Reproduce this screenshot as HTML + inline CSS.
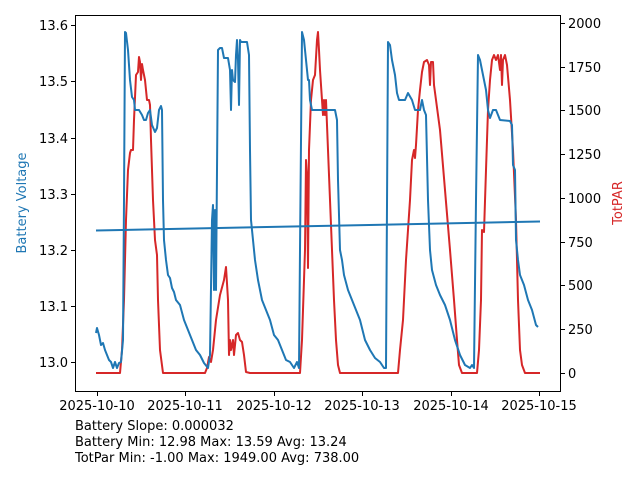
<!DOCTYPE html>
<html><head><style>body{margin:0;background:#fff}svg text{font-family:"DejaVu Sans",sans-serif;font-size:13px}</style></head><body>
<svg width="640" height="480" viewBox="0 0 640 480">
<rect width="640" height="480" fill="#fff"/>
<g fill="none" stroke-width="2" stroke-linejoin="round">
<polyline stroke="#d62728" points="96,373 120,373 122,350 124,300 126,220 128,170 130,153 131,150 133,150 134,120 136,75 138,72 139,57 140,62 141,80 142,64 143,70 145,80 147,100 149,100 150,105 151,140 153,200 155,240 157,255 158,300 160,350 163,373 205,373 207,368 209,357 211,362 213,350 216,320 220,295 224,280 226,267 228,300 229,355 230,340 231,350 233,340 234,355 236,335 238,333 240,340 242,342 244,355 246,372 250,373 300,373 302,340 304,280 305,250 306,160 307,175 308,268 309,150 311,100 313,80 315,75 317,40 318,32 319,50 320,70 322,100 323,115 324,100 325,115 326,100 328,150 330,200 332,250 334,300 336,340 338,365 340,373 398,373 400,350 403,320 406,260 408,230 410,200 412,160 414,150 415,158 416,145 418,110 420,90 422,72 424,62 427,60 429,65 430,85 431,62 433,62 434,85 436,100 440,130 445,190 450,250 454,300 457,340 459,365 462,373 477,373 479,350 481,300 482,230 484,232 486,170 488,110 490,80 492,60 494,55 496,60 498,55 500,70 501,55 502,85 503,60 505,55 507,65 510,100 513,150 516,220 518,300 520,350 522,365 525,373 540,373"/>
<polyline stroke="#1f77b4" points="96,333 97,328 99,335 101,345 103,343 105,350 107,355 109,360 111,362 113,368 115,362 117,368 119,363 121,362 123,340 124,200 125,32 126,33 128,50 130,80 132,97 134,100 135,110 137,110 139,110 142,115 144,120 146,120 148,113 150,110 152,125 155,132 157,128 159,110 161,106 162,110 163,200 164,240 166,260 168,275 170,278 172,288 174,292 176,300 180,305 184,320 188,330 192,340 196,350 200,355 204,363 208,368 210,355 212,220 213,205 214,290 215,210 216,290 218,50 220,48 222,48 224,58 226,58 228,58 230,70 231,110 232,70 233,80 235,82 236,55 237,40 238,60 239,105 240,40 241,42 247,42 249,55 250,150 251,220 253,240 255,260 258,280 262,300 266,310 270,320 274,335 278,340 282,350 286,360 290,362 294,368 297,362 299,368 300,250 302,32 304,40 306,60 308,80 309,80 310,100 312,110 335,110 337,120 338,180 340,250 342,260 344,275 348,290 352,300 356,310 360,320 365,340 370,350 375,358 380,362 384,368 386,368 388,42 390,45 392,60 395,75 397,93 399,100 405,100 408,93 412,100 415,110 420,110 422,100 424,110 426,115 428,200 430,250 432,270 436,285 440,295 445,305 450,320 455,340 460,355 465,365 470,368 472,365 474,368 476,200 478,55 480,60 482,70 484,80 486,90 488,110 490,118 493,110 496,110 500,120 510,121 512,125 513,165 515,170 516,240 518,260 520,275 524,285 528,300 532,310 536,325 538,327"/>
<line x1="96" y1="230.5" x2="540" y2="221.5" stroke="#1f77b4"/>
</g>
<rect x="75.5" y="15.5" width="485" height="376" fill="none" stroke="#000" stroke-width="1"/>
<g stroke="#000" stroke-width="1">
<line x1="75" x2="71" y1="25.5" y2="25.5"/><line x1="75" x2="71" y1="81.5" y2="81.5"/><line x1="75" x2="71" y1="138.5" y2="138.5"/><line x1="75" x2="71" y1="194.5" y2="194.5"/><line x1="75" x2="71" y1="250.5" y2="250.5"/><line x1="75" x2="71" y1="306.5" y2="306.5"/><line x1="75" x2="71" y1="362.5" y2="362.5"/>
<line x1="561" x2="565" y1="23.5" y2="23.5"/><line x1="561" x2="565" y1="67.5" y2="67.5"/><line x1="561" x2="565" y1="110.5" y2="110.5"/><line x1="561" x2="565" y1="154.5" y2="154.5"/><line x1="561" x2="565" y1="198.5" y2="198.5"/><line x1="561" x2="565" y1="242.5" y2="242.5"/><line x1="561" x2="565" y1="285.5" y2="285.5"/><line x1="561" x2="565" y1="329.5" y2="329.5"/><line x1="561" x2="565" y1="373.5" y2="373.5"/>
<line x1="97.5" x2="97.5" y1="392" y2="396"/><line x1="185.5" x2="185.5" y1="392" y2="396"/><line x1="274.5" x2="274.5" y1="392" y2="396"/><line x1="362.5" x2="362.5" y1="392" y2="396"/><line x1="451.5" x2="451.5" y1="392" y2="396"/><line x1="539.5" x2="539.5" y1="392" y2="396"/>
</g>
<g text-anchor="end">
<text x="68" y="30">13.6</text><text x="68" y="86">13.5</text><text x="68" y="143">13.4</text><text x="68" y="199">13.3</text><text x="68" y="255">13.2</text><text x="68" y="311">13.1</text><text x="68" y="367">13.0</text>
</g>
<g text-anchor="start">
<text x="568" y="28">2000</text><text x="568" y="72">1750</text><text x="568" y="115">1500</text><text x="568" y="159">1250</text><text x="568" y="203">1000</text><text x="568" y="247">750</text><text x="568" y="290">500</text><text x="568" y="334">250</text><text x="568" y="378">0</text>
</g>
<g text-anchor="middle">
<text x="97" y="410">2025-10-10</text><text x="185" y="410">2025-10-11</text><text x="274" y="410">2025-10-12</text><text x="362" y="410">2025-10-13</text><text x="451" y="410">2025-10-14</text><text x="539" y="410">2025-10-15</text>
</g>
<text transform="translate(26,203) rotate(-90)" text-anchor="middle" fill="#1f77b4">Battery Voltage</text>
<text transform="translate(622,203) rotate(-90)" text-anchor="middle" fill="#d62728">TotPAR</text>
<text x="75" y="430">Battery Slope: 0.000032</text>
<text x="75" y="446">Battery Min: 12.98 Max: 13.59 Avg: 13.24</text>
<text x="75" y="462">TotPar Min: -1.00 Max: 1949.00 Avg: 738.00</text>
</svg>
</body></html>
